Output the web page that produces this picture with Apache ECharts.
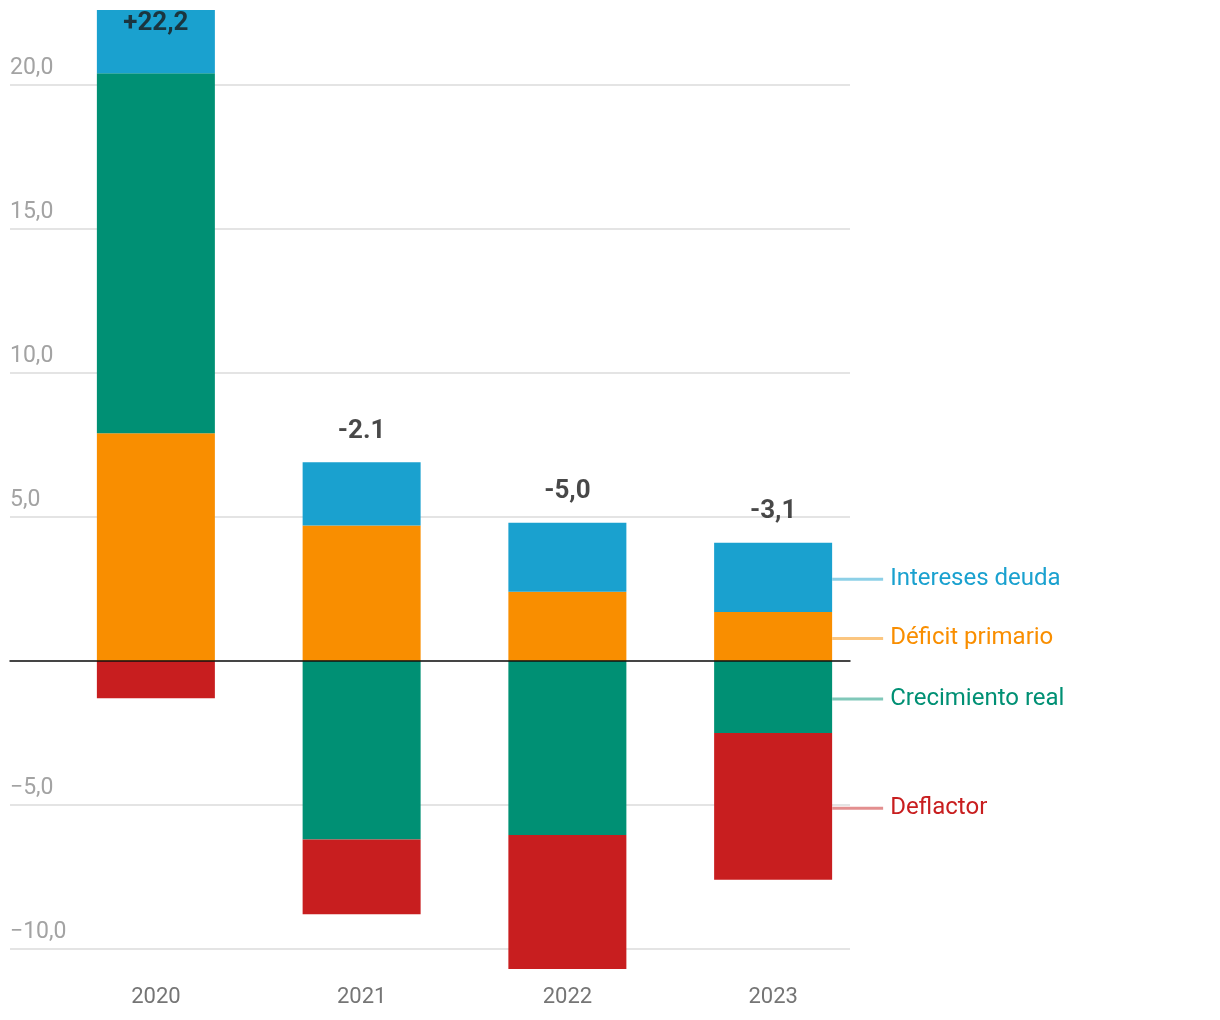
<!DOCTYPE html>
<html>
<head>
<meta charset="utf-8">
<script src="https://cdn.jsdelivr.net/npm/echarts@6/dist/echarts.min.js"></script>
<style>
html,body{margin:0;padding:0;background:#fff;}
#chart{width:1220px;height:1020px;}
</style>
</head>
<body>
<div id="chart"></div>
<script>
// ---- data ----
const years = ['2020', '2021', '2022', '2023'];
const deficitPrimario = [7.9, 4.7, 2.4, 1.7];
const crecimientoReal = [12.5, -6.2, -6.05, -2.5];
const interesesDeuda = [2.2, 2.2, 2.4, 2.4];
const deflactor = [-1.3, -2.6, -4.65, -5.1];
const totalLabels = ['+22,2', '-2.1', '-5,0', '-3,1'];
const yTicksMin = -10, yTicksMax = 20, yTickStep = 5;

// ---- styling ----
const FONT = 'Roboto';
const seriesDefs = [
  { name: 'Déficit primario', data: deficitPrimario, color: '#f98e00', light: '#fbc680' },
  { name: 'Crecimiento real', data: crecimientoReal, color: '#009074', light: '#80c8b9' },
  { name: 'Intereses deuda', data: interesesDeuda, color: '#1aa1cf', light: '#8dd0e7' },
  { name: 'Deflactor', data: deflactor, color: '#c81e1f', light: '#e38f8f' }
];
const Y_MAX = 22.6, Y_MIN = -11;

const fmt = v => v === 0 ? '' : (v < 0 ? '\u2212' : '') + Math.abs(v).toFixed(1).replace('.', ',');

const last = years.length - 1;
const barSeries = seriesDefs.map(s => ({
  type: 'bar',
  name: s.name,
  xAxisIndex: 1,
  yAxisIndex: 1,
  stack: 'total',
  barWidth: 118,
  itemStyle: { color: s.color },
  emphasis: { disabled: true },
  z: 2,
  data: s.data.map((v, i) => i === last ? {
    value: v,
    label: {
      show: true,
      position: 'right',
      distance: 0,
      offset: [0, 2],
      formatter: '{l|}{t|' + s.name + '}',
      rich: {
        l: { width: 51, height: 3, backgroundColor: s.light },
        t: { color: s.color, fontSize: 24, fontFamily: FONT, padding: [0, 0, 0, 7] }
      }
    }
  } : v)
}));

const posTop = years.map((_, i) => seriesDefs.reduce((acc, s) => acc + Math.max(0, s.data[i]), 0));
const totalSeries = {
  type: 'scatter',
  xAxisIndex: 1,
  yAxisIndex: 1,
  symbolSize: 0,
  silent: true,
  clip: false,
  z: 5,
  data: posTop.map((t, i) => {
    const atTop = t > Y_MAX - 1;
    return {
      value: atTop ? Y_MAX : t,
      label: {
        show: true,
        formatter: totalLabels[i],
        position: atTop ? 'bottom' : 'top',
        distance: atTop ? 0 : 18,
        fontFamily: FONT,
        fontWeight: 'bold',
        fontSize: 26,
        color: '#1a1a1a'
      }
    };
  })
};

const chart = echarts.init(document.getElementById('chart'), null, { renderer: 'canvas' });
chart.setOption({
  animation: false,
  backgroundColor: '#ffffff',
  textStyle: { fontFamily: FONT },
  grid: [
    { left: 10, right: 370, top: 85, bottom: 71 },
    { left: 53, right: 344, top: 10, bottom: 42.32 }
  ],
  xAxis: [
    {
      gridIndex: 0, type: 'value', min: 0, max: 1, z: 10,
      axisLine: { show: true, onZero: true, lineStyle: { color: '#111', width: 1.5 } },
      axisTick: { show: false }, axisLabel: { show: false }, splitLine: { show: false }
    },
    {
      gridIndex: 1, type: 'category', data: years,
      axisLine: { show: false }, axisTick: { show: false },
      axisLabel: { color: '#757575', fontSize: 22, fontFamily: FONT, margin: 9 }
    }
  ],
  yAxis: [
    {
      gridIndex: 0, type: 'value', min: yTicksMin, max: yTicksMax, interval: yTickStep,
      axisLine: { show: false }, axisTick: { show: false },
      splitLine: { lineStyle: { color: '#e4e4e4', width: 2 } },
      axisLabel: {
        inside: true, margin: 0, align: 'left', verticalAlign: 'bottom',
        padding: [0, 0, 5, 0], color: '#a3a3a3', fontSize: 23, fontFamily: FONT,
        formatter: fmt
      }
    },
    { gridIndex: 1, type: 'value', min: Y_MIN, max: Y_MAX, show: false }
  ],
  series: barSeries.concat([totalSeries])
});
</script>
</body>
</html>
